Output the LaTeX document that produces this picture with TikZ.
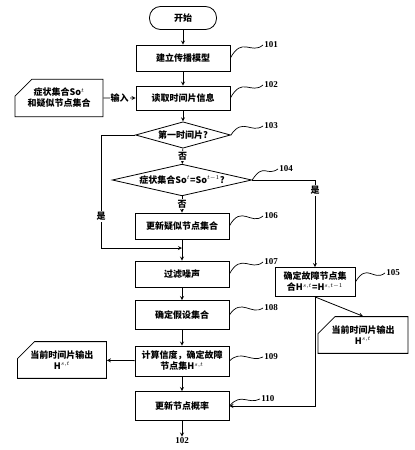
\documentclass[tikz,border=0pt]{standalone}
\usepackage{fontspec}
\setmainfont{Liberation Serif}
\newfontfamily\cjk{Noto Sans CJK SC}
\usetikzlibrary{shapes.geometric,shapes.misc}

\begin{document}
\begin{tikzpicture}[x=1pt,y=-1pt,->,>=stealth,line width=0.8pt,
  every node/.style={font=\cjk\bfseries\fontsize{9}{11}\selectfont},
  proc/.style={rectangle,draw,minimum width=94pt,align=center,inner sep=1pt},
  term/.style={rectangle,draw,rounded corners=11pt,minimum width=67pt,minimum height=23pt},
  cond/.style={diamond,draw,inner sep=1.5pt},
  card/.style={chamfered rectangle,chamfered rectangle corners=north west,
    chamfered rectangle xsep=9pt,chamfered rectangle ysep=8pt,draw,align=center,inner sep=1pt},
  num/.style={font=\bfseries\fontsize{9}{11}\selectfont,inner sep=1pt,anchor=west},
  lbl/.style={fill=white,inner sep=1pt},
  squig/.style={-,line width=0.7pt}]
  \useasboundingbox (0,0) rectangle (415,450);

  % main column
  \node[term] (start) at (183,18) {开始};
  \node[proc,minimum height=26pt] (b101) at (183,58) {建立传播模型};
  \node[proc,minimum height=24pt] (b102) at (183,98) {读取时间片信息};
  \node[card,minimum width=88pt,minimum height=24pt] (input) at (59,98) {症状集合So$^{t}$\\和疑似节点集合};
  \node[cond,aspect=3.6] (d103) at (183,135) {第一时间片?};
  \node[cond,aspect=4.4] (d104) at (182,180) {症状集合So$^{t}$=So$^{t-1}$?};
  \node[proc,minimum height=26pt] (b106) at (182,226) {更新疑似节点集合};
  \node[proc,minimum height=26pt] (b107) at (182,274) {过滤噪声};
  \node[proc,minimum height=29pt] (b108) at (182,315) {确定假设集合};
  \node[proc,minimum height=30pt] (b109) at (182,361) {计算信度，确定故障\\节点集H$^{s,t}$};
  \node[proc,minimum height=29pt] (b110) at (182,406) {更新节点概率};
  \node[num,anchor=center] (n102) at (182,441) {102};
  \coordinate (join) at (182,248);

  % right branch and outputs
  \node[proc,minimum width=80pt,minimum height=29pt] (b105) at (315,282) {确定故障节点集\\合H$^{s,t}$=H$^{s,t-1}$};
  \node[card,minimum width=90pt,minimum height=25pt] (outr) at (363,335) {当前时间片输出\\H$^{s,t}$};
  \node[card,minimum width=89pt,minimum height=24pt] (outl) at (62,360) {当前时间片输出\\H$^{s,t}$};

  % step numbers
  \node[num] (l101) at (263,45) {101};
  \node[num] (l102) at (263,85) {102};
  \node[num] (l103) at (263,126) {103};
  \node[num] (l104) at (278,169) {104};
  \node[num] (l106) at (263,216) {106};
  \node[num] (l107) at (263,262) {107};
  \node[num] (l105) at (385,273) {105};
  \node[num] (l108) at (263,308) {108};
  \node[num] (l109) at (263,357) {109};
  \node[num] (l110) at (260,399) {110};

  \draw (start) -- (b101);
  \draw (b101) -- (b102);
  \draw (input) -- node[lbl]{输入} (b102);
  \draw (b102) -- (d103);
  \draw (d103) -- node[lbl]{否} (d104);
  \draw (d104) -- node[lbl]{否} (b106);
  \draw (b106) -- (b107);
  \draw (d103.west) -- ++(-34,0) |- node[lbl,pos=0.36]{是} (join);
  \draw (d104.east) -| node[lbl,pos=0.56]{是} (b105.north);
  \draw (b105.south) -- (outr.north);
  \draw (b105.south) |- (b110.east);
  \draw (b107) -- (b108);
  \draw (b108) -- (b109);
  \draw (b109) -- (outl);
  \draw (b109) -- (b110);
  \draw (b110) -- (n102);

  % leader waves
  \draw[squig] (b101.east) .. controls +(12,-22) and +(-12,10) .. (l101.west);
  \draw[squig] (b102.east) .. controls +(12,-22) and +(-12,10) .. (l102.west);
  \draw[squig] (d103.east) .. controls +(12,-18) and +(-12,8) .. (l103.west);
  \draw[squig] (d104.east) .. controls +(12,-18) and +(-12,8) .. (l104.west);
  \draw[squig] (b106.east) .. controls +(12,-22) and +(-12,10) .. (l106.west);
  \draw[squig] (b107.east) .. controls +(12,-22) and +(-12,10) .. (l107.west);
  \draw[squig] (b105.east) .. controls +(12,-20) and +(-12,9) .. (l105.west);
  \draw[squig] (b108.east) .. controls +(12,-18) and +(-12,8) .. (l108.west);
  \draw[squig] (b109.east) .. controls +(12,-12) and +(-12,6) .. (l109.west);
  \draw[squig] (b110.east) .. controls +(12,-14) and +(-12,6) .. (l110.west);
\end{tikzpicture}
\end{document}
